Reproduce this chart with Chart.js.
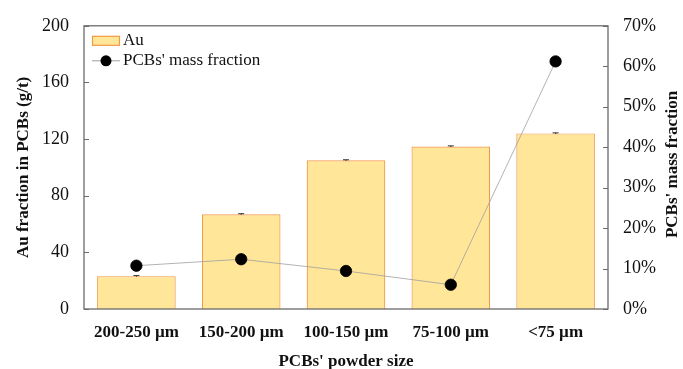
<!DOCTYPE html>
<html><head><meta charset="utf-8">
<script src="https://cdn.jsdelivr.net/npm/chart.js@4/dist/chart.umd.min.js"></script>
<style>html,body{margin:0;padding:0;background:#fff}#wrap{width:683px;height:369px;position:relative}</style>
</head><body><div id="wrap"><canvas id="c" width="683" height="369"></canvas></div>
<script>
const categories = ['200-250 µm', '150-200 µm', '100-150 µm', '75-100 µm', '<75 µm'];
const auValues = [23.2, 66.9, 105.0, 114.8, 124.0];
const auErrors = [0.4, 0.4, 0.4, 0.4, 0.4];
const massFraction = [10.7, 12.3, 9.4, 6.0, 61.2];
const leftTicks = [0, 40, 80, 120, 160, 200];
const rightTicks = [0, 10, 20, 30, 40, 50, 60, 70];
const rightTitle = "PCBs' mass fraction";

const FONT = "'Liberation Serif', 'Times New Roman', serif";
const AXIS = '#6b6b6b';
const BAR_FILL = '#FFE699';
const BAR_BORDER = '#F39A45';

const framePlugin = {
  id: 'frame',
  afterDatasetsDraw(chart) {
    const {ctx, scales} = chart;
    ctx.save();
    const meta = chart.getDatasetMeta(1);
    ctx.strokeStyle = '#333';
    ctx.lineWidth = 1;
    meta.data.forEach((bar, i) => {
      const yTop = scales.y.getPixelForValue(auValues[i] + auErrors[i]);
      const yBot = scales.y.getPixelForValue(auValues[i] - auErrors[i]);
      ctx.beginPath();
      ctx.moveTo(bar.x - 3, yTop); ctx.lineTo(bar.x + 3, yTop);
      ctx.moveTo(bar.x, yTop); ctx.lineTo(bar.x, yBot);
      ctx.stroke();
    });
    ctx.restore();
  },
  afterDraw(chart) {
    const {ctx, chartArea: a, scales} = chart;
    ctx.save();
    ctx.strokeStyle = AXIS;
    ctx.lineWidth = 1.3;
    ctx.strokeRect(a.left, a.top, a.right - a.left, a.bottom - a.top);
    ctx.lineWidth = 1;
    scales.y.ticks.forEach(t => {
      const y = Math.round(scales.y.getPixelForValue(t.value)) + 0.5;
      ctx.beginPath(); ctx.moveTo(a.left, y); ctx.lineTo(a.left + 5, y); ctx.stroke();
    });
    scales.y2.ticks.forEach(t => {
      const y = Math.round(scales.y2.getPixelForValue(t.value)) + 0.5;
      ctx.beginPath(); ctx.moveTo(a.right, y); ctx.lineTo(a.right - 5, y); ctx.stroke();
    });
    // right axis title (reads bottom to top)
    ctx.save();
    ctx.translate(scales.y2.right - 10, (a.top + a.bottom) / 2 - 3);
    ctx.rotate(-Math.PI / 2);
    ctx.fillStyle = '#111';
    ctx.font = 'bold 17px ' + FONT;
    ctx.textAlign = 'center';
    ctx.textBaseline = 'middle';
    ctx.fillText(rightTitle, 0, 0);
    ctx.restore();
    // legend
    const lx = a.left + 8, ly = a.top + 15;
    ctx.fillStyle = BAR_FILL; ctx.strokeStyle = BAR_BORDER; ctx.lineWidth = 1.2;
    ctx.fillRect(lx + 0.5, ly - 4.5, 27, 9);
    ctx.strokeRect(lx + 0.5, ly - 4.5, 27, 9);
    ctx.fillStyle = '#111';
    ctx.font = '17px ' + FONT;
    ctx.textBaseline = 'middle';
    ctx.textAlign = 'left';
    ctx.fillText('Au', lx + 31, ly);
    const ly2 = ly + 20;
    ctx.strokeStyle = '#a0a0a0'; ctx.lineWidth = 1;
    ctx.beginPath(); ctx.moveTo(lx, ly2); ctx.lineTo(lx + 28, ly2); ctx.stroke();
    ctx.fillStyle = '#000';
    ctx.beginPath(); ctx.arc(lx + 14, ly2, 5.5, 0, Math.PI * 2); ctx.fill();
    ctx.fillStyle = '#111';
    ctx.fillText("PCBs' mass fraction", lx + 31, ly2);
    ctx.restore();
  }
};

new Chart(document.getElementById('c'), {
  data: {
    labels: categories,
    datasets: [
      {
        type: 'line', label: "PCBs' mass fraction", data: massFraction, yAxisID: 'y2',
        borderColor: '#a0a0a0', borderWidth: 0.8, backgroundColor: '#000',
        pointBackgroundColor: '#000', pointBorderColor: '#000', pointRadius: 5.7, order: 0
      },
      {
        type: 'bar', label: 'Au', data: auValues, yAxisID: 'y',
        backgroundColor: BAR_FILL, borderColor: BAR_BORDER, borderWidth: 1.2,
        barPercentage: 0.75, categoryPercentage: 1, order: 1
      }
    ]
  },
  options: {
    responsive: false, animation: false,
    layout: { padding: { left: 0, right: 0, top: 19, bottom: 0 } },
    plugins: { legend: { display: false }, tooltip: { enabled: false } },
    scales: {
      x: {
        afterFit: s => { s.height = 60; },
        grid: { display: false, drawTicks: false },
        border: { display: false },
        ticks: { color: '#111', font: { family: FONT, size: 17, weight: 'bold' }, padding: 13 },
        title: { display: true, text: "PCBs' powder size", color: '#111', font: { family: FONT, size: 17, weight: 'bold' }, padding: { top: 0, bottom: -3 } }
      },
      y: {
        position: 'left', min: 0, max: 200,
        afterFit: s => { s.width = 84; },
        afterBuildTicks: s => { s.ticks = leftTicks.map(v => ({ value: v })); },
        grid: { display: false, drawTicks: false },
        border: { display: false },
        ticks: { color: '#111', font: { family: FONT, size: 18 }, padding: 15 },
        title: { display: true, text: 'Au fraction in PCBs (g/t)', color: '#111', font: { family: FONT, size: 17, weight: 'bold' }, padding: { top: 13, bottom: 0 } }
      },
      y2: {
        position: 'right', min: 0, max: 70,
        afterFit: s => { s.width = 75; },
        afterBuildTicks: s => { s.ticks = rightTicks.map(v => ({ value: v })); },
        grid: { display: false, drawTicks: false },
        border: { display: false },
        ticks: { color: '#111', font: { family: FONT, size: 18 }, padding: 15, callback: v => v + '%' },
        title: { display: false }
      }
    }
  },
  plugins: [framePlugin]
});
</script></body></html>
